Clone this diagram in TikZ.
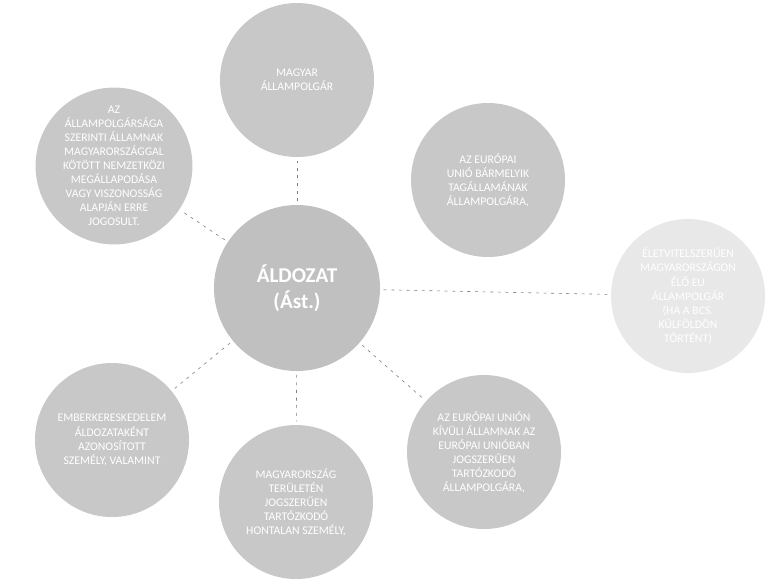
\documentclass[tikz,border=0pt]{standalone}
\usepackage{fontspec}
\setmainfont{Carlito}
\usetikzlibrary{positioning}
\definecolor{korszurke}{RGB}{200,200,200}
\definecolor{foszurke}{RGB}{192,192,192}
\definecolor{halvany}{RGB}{232,232,232}
\definecolor{vonal}{RGB}{125,125,125}
\tikzset{
  kor/.style  ={circle,fill=korszurke,text=white,align=center,inner sep=0pt,
                minimum size=4.62cm,font=\fontsize{10}{12}\selectfont},
  fo/.style   ={kor,fill=foszurke,minimum size=4.98cm,font=\fontsize{18}{22}\selectfont\bfseries},
  halv/.style ={kor,fill=halvany},
  kap/.style  ={draw=vonal,line width=0.5pt,dash pattern=on 2.5pt off 4pt,
                shorten <=3pt,shorten >=3pt},
}
\begin{document}
\begin{tikzpicture}[x=0.03cm,y=-0.03cm]
  \useasboundingbox (0,0) rectangle (767,582);
  % kozepso kor
  \node[fo] (aldozat) at (297,288) {ÁLDOZAT\\(Ást.)};
  % korulotte
  \node[kor] (magyar) at (297,80) {MAGYAR\\ÁLLAMPOLGÁR};
  \node[kor] (szerzodes) at (114,166) {AZ\\ÁLLAMPOLGÁRSÁGA\\SZERINTI ÁLLAMNAK\\MAGYARORSZÁGGAL\\KÖTÖTT NEMZETKÖZI\\MEGÁLLAPODÁSA\\VAGY VISZONOSSÁG\\ALAPJÁN ERRE\\JOGOSULT.};
  \node[kor] (eutag) at (488,180) {AZ EURÓPAI\\UNIÓ BÁRMELYIK\\TAGÁLLAMÁNAK\\ÁLLAMPOLGÁRA,};
  \node[halv] (eletvitel) at (688,296) {ÉLETVITELSZERŰEN\\MAGYARORSZÁGON\\ÉLŐ EU\\ÁLLAMPOLGÁR\\(HA A BCS.\\KÜLFÖLDÖN\\TÖRTÉNT)};
  \node[kor] (ember) at (112,440) {EMBERKERESKEDELEM\\ÁLDOZATAKÉNT\\AZONOSÍTOTT\\SZEMÉLY, VALAMINT};
  \node[kor] (hontalan) at (296,502) {MAGYARORSZÁG\\TERÜLETÉN\\JOGSZERŰEN\\TARTÓZKODÓ\\HONTALAN SZEMÉLY,};
  \node[kor] (kivuli) at (484,452) {AZ EURÓPAI UNIÓN\\KÍVÜLI ÁLLAMNAK AZ\\EURÓPAI UNIÓBAN\\JOGSZERŰEN\\TARTÓZKODÓ\\ÁLLAMPOLGÁRA,};
  % szaggatott kapcsolatok
  \draw[kap] (aldozat) -- (magyar);
  \draw[kap] (aldozat) -- (szerzodes);
  \draw[kap] (aldozat) -- (eletvitel);
  \draw[kap] (aldozat) -- (kivuli);
  \draw[kap] (aldozat) -- (hontalan);
  \draw[kap] (aldozat) -- (ember);
\end{tikzpicture}
\end{document}
